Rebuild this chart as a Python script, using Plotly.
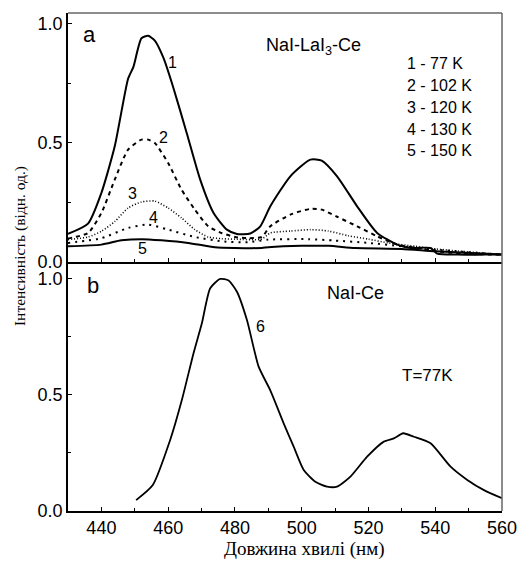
import plotly.graph_objects as go
from plotly.subplots import make_subplots

# ---- data (panel a: NaI-LaI3-Ce, panel b: NaI-Ce) ----
wl_1 = [430, 436, 440, 444, 448, 449.6, 452, 454, 456, 458.6, 461.6, 465.6, 469.6, 473.6, 477.6, 480.6, 484.6,
        487.6, 490.6, 496.6, 502.6, 506, 510.6, 516.6, 522.6, 528.6, 532.6, 538.6, 540.6, 546.6, 554.6, 560]
int_1 = [0.118, 0.161, 0.29, 0.486, 0.77, 0.82, 0.94, 0.95, 0.93, 0.857, 0.73, 0.54, 0.346, 0.206, 0.136, 0.118, 0.120,
         0.15, 0.234, 0.36, 0.43, 0.426, 0.36, 0.234, 0.122, 0.073, 0.059, 0.059, 0.035, 0.031, 0.031, 0.031]

wl_2 = [430, 436, 440, 444, 448, 452, 454, 456, 460, 464, 468, 472, 476, 480, 484, 488, 490.6, 496.6, 502.6, 506,
        510.6, 516.6, 522.6, 528.6, 534.6, 540.6, 548, 560]
int_2 = [0.099, 0.122, 0.206, 0.346, 0.472, 0.514, 0.514, 0.50, 0.416, 0.304, 0.22, 0.15, 0.122, 0.105, 0.10, 0.105,
         0.15, 0.199, 0.223, 0.22, 0.19, 0.15, 0.108, 0.073, 0.059, 0.045, 0.035, 0.031]

wl_3 = [430, 436, 440, 444, 448, 452, 456, 460, 464, 468, 472, 476, 480, 488, 490.6, 496.6, 502.6, 508, 514, 520,
        526, 534, 540, 560]
int_3 = [0.094, 0.105, 0.129, 0.17, 0.227, 0.252, 0.256, 0.227, 0.185, 0.136, 0.105, 0.098, 0.096, 0.096, 0.122,
         0.13, 0.136, 0.13, 0.11, 0.096, 0.08, 0.066, 0.055, 0.031]

wl_4 = [430, 440, 448, 454, 460, 468, 476, 484, 490, 502, 510, 520, 530, 540, 560]
int_4 = [0.08, 0.10, 0.143, 0.157, 0.136, 0.105, 0.087, 0.083, 0.094, 0.096, 0.09, 0.08, 0.066, 0.052, 0.031]

wl_5 = [430, 440, 446, 452, 458, 466, 474, 480, 488, 490, 500, 508, 516, 530, 540, 560]
int_5 = [0.066, 0.073, 0.091, 0.096, 0.091, 0.08, 0.062, 0.059, 0.059, 0.062, 0.068, 0.068, 0.059, 0.055, 0.045, 0.031]

wl_6 = [450.4, 455.4, 460.6, 464.1, 467.6, 470.1, 472.6, 475.6, 478.1, 480.6, 483.6, 487.1, 490.6, 494.6, 497.6,
        500.6, 504.1, 507.6, 510.6, 514.6, 519.6, 524.6, 527.6, 530.4, 533.6, 538.6, 544.6, 549.6, 554.6, 560]
int_6 = [0.047, 0.112, 0.306, 0.478, 0.68, 0.809, 0.96, 1.0, 0.993, 0.945, 0.823, 0.622, 0.52, 0.378, 0.277,
         0.177, 0.126, 0.105, 0.105, 0.148, 0.234, 0.299, 0.313, 0.335, 0.32, 0.292, 0.191, 0.134, 0.09, 0.055]

legend_lines = ["1 - 77 K", "2 - 102 K", "3 - 120 K", "4 - 130 K", "5 - 150 K"]
x_ticks = [440, 460, 480, 500, 520, 540, 560]
y_ticks = [0.0, 0.5, 1.0]

SANS = "Liberation Sans, Arial, sans-serif"
SERIF = "Liberation Serif, Times New Roman, serif"

fig = make_subplots(rows=2, cols=1, shared_xaxes=True, vertical_spacing=0)

curves_a = [
    (wl_1, int_1, "solid", 2.0),
    (wl_2, int_2, "4px,4px", 2.0),
    (wl_3, int_3, "1px,2px", 1.6),
    (wl_4, int_4, "2px,5px", 2.0),
    (wl_5, int_5, "solid", 2.0),
]
for x, y, dash, w in curves_a:
    fig.add_trace(go.Scatter(x=x, y=y, mode="lines",
                             line=dict(color="black", width=w, dash=dash, shape="spline", smoothing=0.6),
                             showlegend=False), row=1, col=1)
fig.add_trace(go.Scatter(x=wl_6, y=int_6, mode="lines",
                         line=dict(color="black", width=1.8, shape="spline", smoothing=0.6),
                         showlegend=False), row=2, col=1)

xax = dict(range=[430, 560], tickvals=x_ticks, ticks="inside", ticklen=4, tickwidth=1, tickcolor="black",
           minor=dict(dtick=10, tick0=430, ticks="inside", ticklen=3, tickcolor="black"),
           showline=True, linecolor="black", linewidth=1.5, showgrid=False, zeroline=False, automargin=False,
           tickfont=dict(family=SANS, size=18, color="black"))
fig.update_xaxes(**xax)
fig.update_xaxes(showticklabels=False, row=1, col=1)

yax = dict(tickvals=y_ticks, ticktext=["0.0", "0.5", "1.0"], ticks="inside", ticklen=4, tickcolor="black",
           minor=dict(dtick=0.25, tick0=0, ticks="inside", ticklen=3, tickcolor="black"),
           showline=True, linecolor="black", linewidth=1.5, showgrid=False, zeroline=False, automargin=False,
           tickfont=dict(family=SANS, size=18, color="black"))
fig.update_yaxes(**yax)
fig.update_yaxes(range=[0, 1.046], row=1, col=1)
fig.update_yaxes(range=[0, 1.073], row=2, col=1)

ann = []
def a(x, y, text, size, xref="x", yref="y", xanchor="center", family=SANS, **kw):
    ann.append(dict(x=x, y=y, xref=xref, yref=yref, text=text, showarrow=False, xanchor=xanchor,
                    yanchor="middle", font=dict(family=family, size=size, color="black"), **kw))

a(436.3, 0.955, "a", 22)
a(461.4, 0.84, "1", 16)
a(458.5, 0.524, "2", 16)
a(449.2, 0.287, "3", 16)
a(455.5, 0.186, "4", 16)
a(452.2, 0.056, "5", 16)
a(503.5, 0.905, "NaI-LaI<sub>3</sub>-Ce", 18)
for i, (t, v) in enumerate(zip(legend_lines, [0.833, 0.742, 0.651, 0.556, 0.468])):
    a(530.8, v, t, 16, xanchor="left")

a(437.5, 0.97, "b", 22, xref="x2", yref="y2")
a(487.6, 0.797, "6", 16, xref="x2", yref="y2")
a(516.1, 0.9375, "NaI-Ce", 18, xref="x2", yref="y2")
a(537.8, 0.582, "T=77K", 17, xref="x2", yref="y2")

a(0.544, -0.0763, "Довжина хвилі (нм)", 19, xref="paper", yref="paper", family=SERIF)
a(-0.1106, 0.532, "Інтенсивність (відн. од.)", 15.5, xref="paper", yref="paper", family=SERIF, textangle=-90)

fig.update_layout(
    width=518, height=561, margin=dict(l=68, r=16, t=13, b=50),
    paper_bgcolor="white", plot_bgcolor="white", annotations=ann,
    shapes=[
        dict(type="line", xref="paper", yref="paper", x0=0, x1=1, y0=1, y1=1, line=dict(color="#666", width=1.5)),
        dict(type="line", xref="paper", yref="paper", x0=1, x1=1, y0=0, y1=1, line=dict(color="#666", width=1.5)),
    ],
)
fig.write_html("out.html", config={"displayModeBar": False},
               post_script="document.body.style.margin='0';document.body.style.overflow='hidden';")
